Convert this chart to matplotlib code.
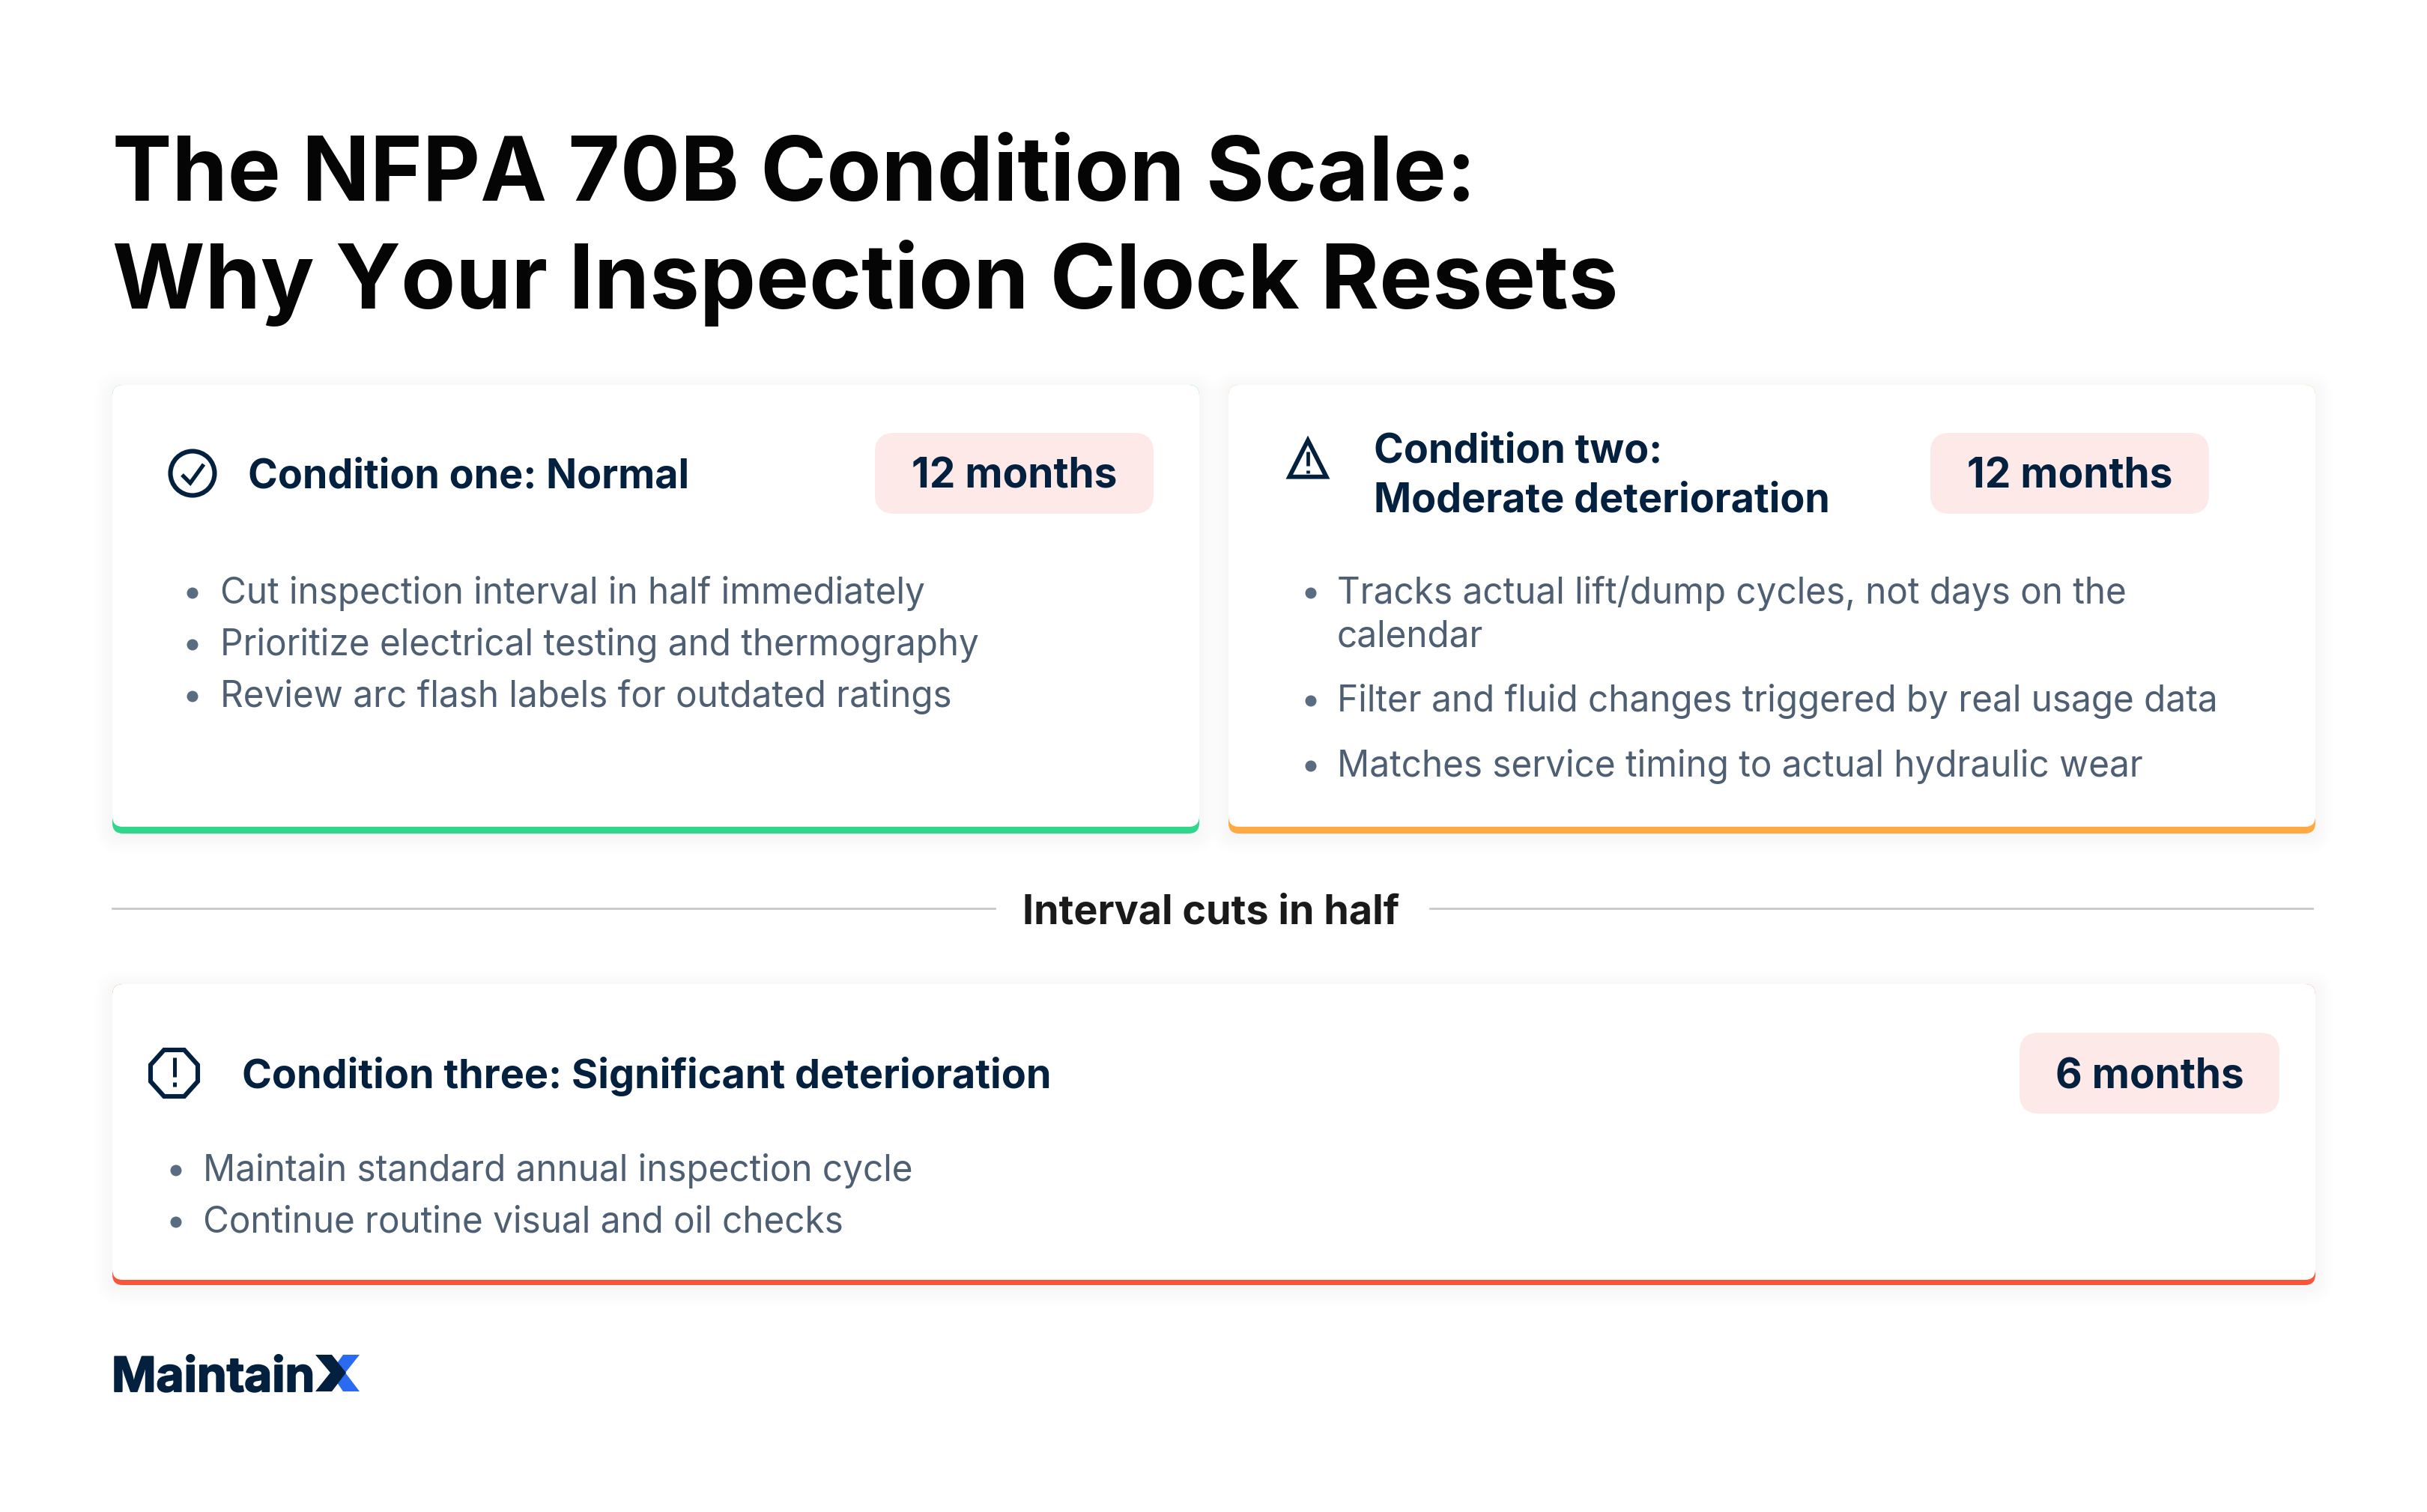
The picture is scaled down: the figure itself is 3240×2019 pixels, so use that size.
import matplotlib
matplotlib.use("Agg")
import matplotlib.pyplot as plt
import matplotlib.patheffects as pe
from matplotlib.patches import FancyBboxPatch, Circle, Polygon

plt.rcParams["font.family"] = ["Inter", "DejaVu Sans"]

W, H = 3240, 2019
NAVY = "#03203f"; BODY = "#4f5f73"; PILL = "#fde9e7"; DARK = "#1a1a1a"

TITLE_LINES = ["The NFPA 70B Condition Scale:", "Why Your Inspection Clock Resets"]
HEAD_ONE = ["Condition one: Normal"]
HEAD_TWO = ["Condition two:", "Moderate deterioration"]
HEAD_THREE = ["Condition three: Significant deterioration"]
MONTHS = ["12 months", "12 months", "6 months"]
BULLETS_ONE = ["Cut inspection interval in half immediately",
               "Prioritize electrical testing and thermography",
               "Review arc flash labels for outdated ratings"]
BULLETS_TWO = [["Tracks actual lift/dump cycles, not days on the", "calendar"],
               ["Filter and fluid changes triggered by real usage data"],
               ["Matches service timing to actual hydraulic wear"]]
BULLETS_THREE = ["Maintain standard annual inspection cycle",
                 "Continue routine visual and oil checks"]
DIVIDER = "Interval cuts in half"
LOGO = "Maintain"

TITLE_PT = 85.8; HEAD_PT = 38.8; BODY_PT = 34.4; PILL_PT = 39.6

fig = plt.figure(figsize=(W / 100, H / 100), dpi=100, facecolor="white")
ax = fig.add_axes([0, 0, 1, 1])
ax.set_xlim(0, W); ax.set_ylim(H, 0); ax.axis("off")

def rbox(x0, y0, x1, y1, r, color, z=1, alpha=1.0):
    p = FancyBboxPatch((x0, y0), x1 - x0, y1 - y0, boxstyle=f"round,pad=0,rounding_size={r}",
                       fc=color, ec="none", alpha=alpha, zorder=z)
    ax.add_patch(p)

def card(x0, y0, x1, y1, color, bar):
    # soft shadow, stacked from wide to tight
    for g in range(24, 0, -3):
        rbox(x0 - g, y0 - g + 5, x1 + g, y1 + g + 3, 12 + g, "#1a2a3a", z=1, alpha=0.0028)
    rbox(x0, y0, x1, y1, 14, color, z=2)
    rbox(x0, y0, x1, y1 - bar, 14, "white", z=3)

def pill(x0, y0, x1, y1, label, base):
    rbox(x0, y0, x1, y1, 26, PILL, z=4)
    ax.text((x0 + x1) / 2, base, label, fontsize=PILL_PT, fontweight="bold", color=NAVY,
            ha="center", va="baseline", zorder=5)

def txt(x, y, s, size, weight="normal", color=BODY, ha="left"):
    return ax.text(x, y, s, fontsize=size, fontweight=weight, color=color, ha=ha, va="baseline", zorder=5)

def dot(x, y):
    ax.add_patch(Circle((x, y), 7.5, fc="#5a6c82", ec="none", zorder=5))

def stroke(xs, ys, lw=3.6, color=NAVY, join="miter"):
    ax.plot(xs, ys, color=color, lw=lw, solid_joinstyle=join, solid_capstyle="butt", zorder=6)

for line, base in zip(TITLE_LINES, [268, 412]):
    txt(150, base, line, TITLE_PT, "bold", "#050505")

# top left card
card(150, 514, 1601, 1113, "#2fd68c", 9)
ax.add_patch(Circle((257, 632), 29.5, fc="none", ec=NAVY, lw=4.4, zorder=6))
stroke([243, 254, 272], [634, 645, 620], lw=3.8)
txt(331, 651, HEAD_ONE[0], HEAD_PT, "bold", NAVY)
pill(1168, 578, 1540, 686, MONTHS[0], 652)
for s, base in zip(BULLETS_ONE, [806, 875, 944]):
    dot(257, base - 14)
    txt(294, base, s, BODY_PT)

# top right card
card(1640, 514, 3091, 1113, "#ffa940", 9)
ax.add_patch(Polygon([[1746, 588], [1770.7, 636.7], [1721.3, 636.7]], closed=True, fc="none", ec=NAVY,
                     lw=4.2, joinstyle="miter", zorder=6))
stroke([1746, 1746], [603, 622], lw=3.4)
stroke([1746, 1746], [628, 632], lw=3.4)
for s, base in zip(HEAD_TWO, [617, 683]):
    txt(1834, base, s, HEAD_PT, "bold", NAVY)
pill(2577, 578, 2949, 686, MONTHS[1], 652)
for lines, base in zip(BULLETS_TWO, [806, 950, 1037]):
    dot(1750, base - 14)
    for k, s in enumerate(lines):
        txt(1785, base + 58 * k, s, BODY_PT)

# divider
ax.plot([150, 1328], [1213, 1213], color="#c6cacd", lw=2, zorder=2)
ax.plot([1909, 3087], [1213, 1213], color="#c6cacd", lw=2, zorder=2)
txt(1617, 1233, DIVIDER, HEAD_PT, "bold", DARK, ha="center")

# bottom card
card(150, 1314, 3091, 1716, "#f9553b", 7)
ax.add_patch(Polygon([[219, 1402], [246, 1402], [264, 1422], [264, 1444], [246, 1464], [219, 1464],
                      [201, 1444], [201, 1422]], closed=True, fc="none", ec=NAVY, lw=4.4, zorder=6))
stroke([232.5, 232.5], [1412, 1438], lw=3.6)
stroke([232.5, 232.5], [1445, 1451], lw=3.6)
txt(323, 1453, HEAD_THREE[0], 38.9, "bold", NAVY)
pill(2696, 1379, 3043, 1487, MONTHS[2], 1453)
for s, base in zip(BULLETS_THREE, [1577, 1646]):
    dot(235, base - 14)
    txt(271, base, s, BODY_PT)

# logo
t = txt(149, 1858, LOGO, 46, "bold", NAVY)
t.set_path_effects([pe.withStroke(linewidth=1.4, foreground=NAVY)])
ax.add_patch(Polygon([[458, 1809], [480, 1809], [461, 1833], [480, 1858], [458, 1858], [441, 1833]],
                     closed=True, fc="#2a6bf2", ec="none", zorder=6))
ax.add_patch(Polygon([[421, 1809], [443, 1809], [462, 1833], [443, 1858], [421, 1858], [441, 1833]],
                     closed=True, fc=NAVY, ec="none", zorder=7))

fig.savefig("out.png", dpi=100, facecolor="white")
